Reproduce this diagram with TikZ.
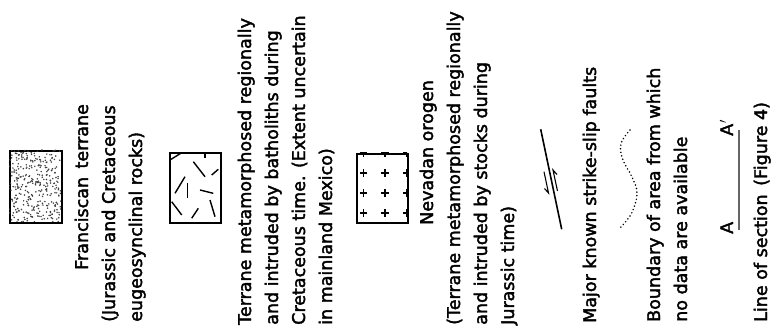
\documentclass[tikz,border=0pt]{standalone}
\usepackage{fontspec}
\setmainfont{DejaVu Sans}[FakeBold=2.2]
\begin{document}
\begin{tikzpicture}[x=1pt,y=-1pt,
  lbl/.style={rotate=90, anchor=base west, inner sep=0pt, font=\fontsize{17.5}{21}\selectfont},
  symbox/.style={draw, line width=1.7pt, inner sep=0pt, anchor=north west},
  pat/.style={line width=1.4pt},
  harp/.style={line width=1.1pt}]
\useasboundingbox (0,0) rectangle (782,336);

% ---- Franciscan terrane
\node[symbox, minimum width=52pt, minimum height=72pt] (franbox) at (9,150) {};
\begin{scope}
  \clip (9,150) rectangle (61,222);
  \pgfmathsetseed{7}
  \foreach \i in {1,...,340}{
    \fill[black!75] ({9+52*rnd},{150+72*rnd}) circle[radius=0.85pt];
  }
\end{scope}
\node[lbl] (fran1) at (88,270) {Franciscan\, terrane};
\node[lbl] (fran2) at (115,322) {(Jurassic and Cretaceous};
\node[lbl] (fran3) at (142,322) {eugeosynclinal rocks)};

% ---- Batholiths
\node[symbox, minimum width=51pt, minimum height=70pt] (bathbox) at (169,152) {};
\draw[pat] (170,160)--(181.7,152.7);
\draw[pat] (205,152.7)--(205,158.3);
\draw[pat] (193.3,161.7)--(205,176.7);
\draw[pat] (211.7,175)--(218.3,169.3);
\draw[pat] (175,193.3)--(185,176.7);
\draw[pat] (187.3,183.3)--(187.3,198.3);
\draw[pat] (200,190)--(213.3,193.3);
\draw[pat] (171.7,201.7)--(181.7,215);
\draw[pat] (191.7,218.3)--(198.3,208.3);
\draw[pat] (210,200)--(215,216.7);
\node[lbl] (bath1) at (251,325) {Terrane metamorphosed regionally};
\node[lbl] (bath2) at (278,325) {and intruded by batholiths during};
\node[lbl] (bath3) at (305,325) {Cretaceous time. (Extent uncertain};
\node[lbl] (bath4) at (332,325) {in mainland Mexico)};

% ---- Nevadan orogen
\node[symbox, minimum width=51pt, minimum height=69pt] (nevbox) at (356,153) {};
\begin{scope}
  \clip (356,153) rectangle (407,222);
  \foreach \cx in {363.3,385,406.7}{
    \foreach \cy in {153,173,193,213}{
      \draw[line width=1.1pt] (\cx-3.8,\cy)--(\cx+3.8,\cy) (\cx,\cy-3.8)--(\cx,\cy+3.8);
    }
  }
\end{scope}
\node[lbl] (nev1) at (433,225) {Nevadan orogen};
\node[lbl] (nev2) at (460,325) {(Terrane metamorphosed regionally};
\node[lbl] (nev3) at (487,325) {and intruded by stocks during};
\node[lbl] (nev4) at (514,325) {Jurassic time)};

% ---- Strike-slip faults
\draw[line width=1.6pt] (540.7,129.3)--(561.7,229.3);
\draw[harp] (544,171.7)--(548.5,193)--(544.5,188.5);
\draw[harp] (557.5,191)--(553,170)--(557,174.5);
\node[lbl] (fault) at (596,323) {Major known strike-slip faults};

% ---- Boundary of area
\draw[line width=1.7pt, line cap=round, dash pattern=on 0pt off 3.6pt]
  plot[smooth, tension=0.7] coordinates {(630,130) (621,144) (623,160) (632,177) (637,193) (633,210) (627,220) (620,228)};
\node[lbl] (bound1) at (660,322) {Boundary of area from which};
\node[lbl] (bound2) at (687,322) {no data are available};

% ---- Line of section
\node[lbl] (secA) at (733,234) {A};
\node[lbl] (secAp) at (733,136) {A$'$};
\coordinate (secs) at (739,230);
\coordinate (sece) at (739,130);
\draw[line width=1.6pt, black!60] (secs)--(sece);
\node[lbl] (sec) at (767,322) {Line of section\, (Figure 4)};
\end{tikzpicture}
\end{document}
